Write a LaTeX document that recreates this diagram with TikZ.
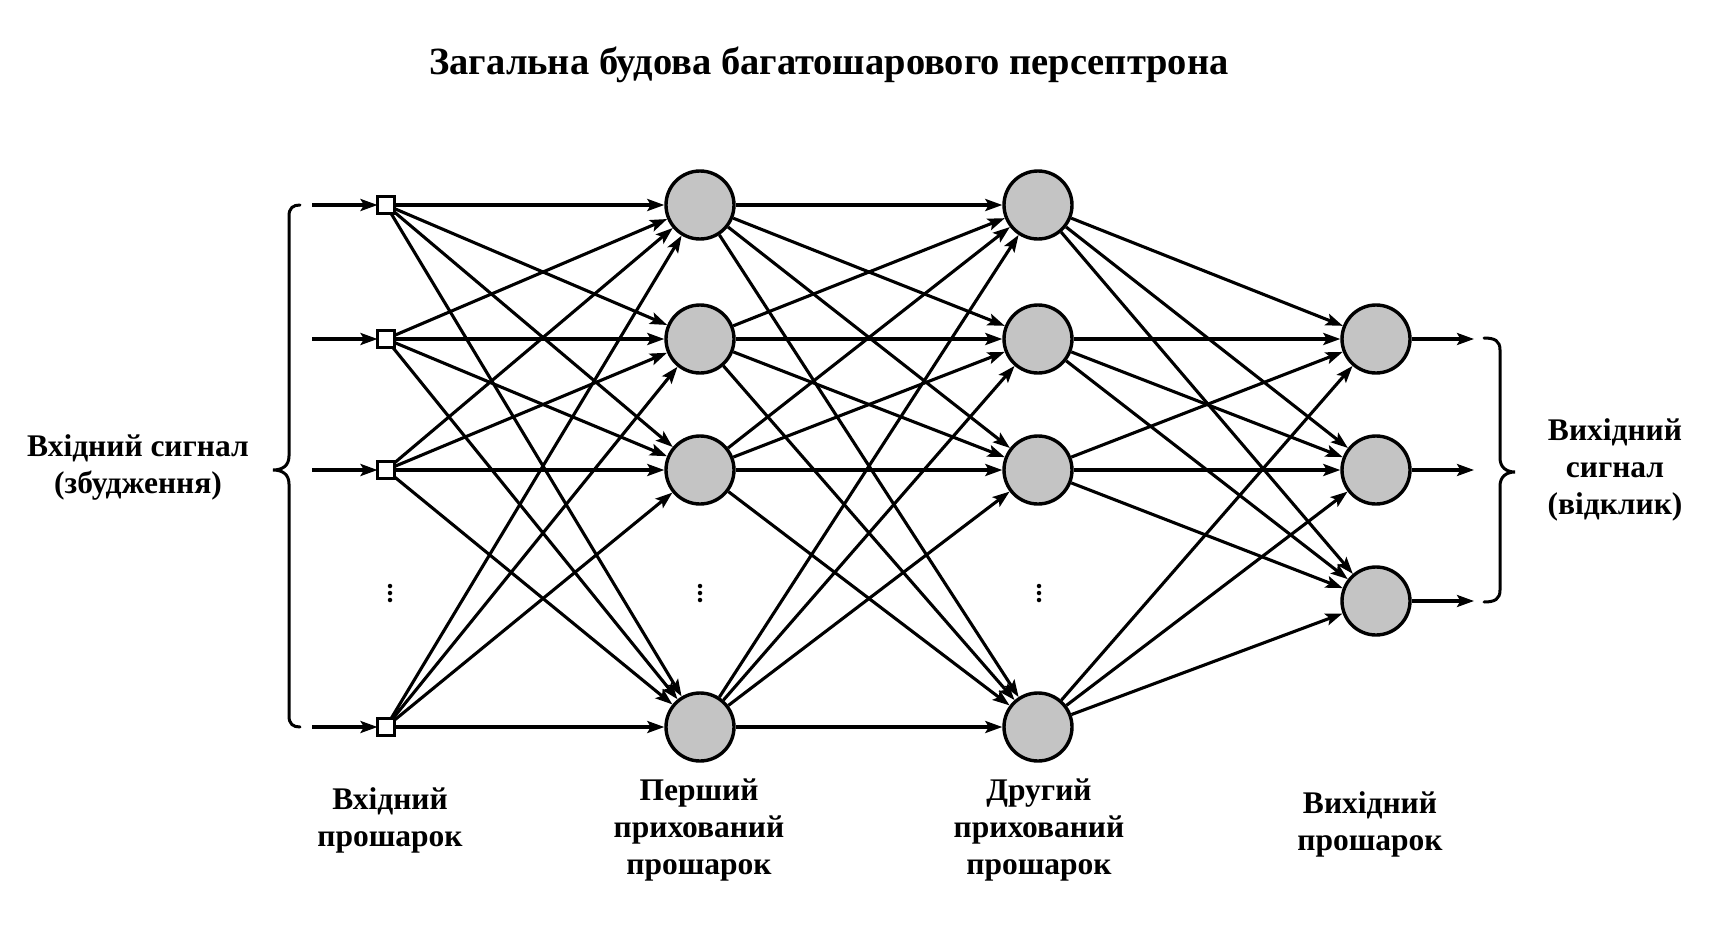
\documentclass[tikz,border=0pt]{standalone}
\usepackage{fontspec}
\setmainfont{Liberation Serif}
\usetikzlibrary{arrows.meta}
\begin{document}
\begin{tikzpicture}[x=1pt,y=-1pt,
  conn/.style={line width=3.1pt,-{Stealth[length=17pt,width=12pt,inset=3.5pt]}},
  inbox/.style={draw,line width=2.2pt,fill=white,minimum size=17pt,inner sep=0pt,outer sep=0pt},
  neuron/.style={circle,draw,line width=3.4pt,fill=black!23,minimum size=68pt,inner sep=0pt},
  bracepath/.style={line width=3pt,line cap=round},
  lbl/.style={align=center,font=\bfseries\fontsize{31.5}{37}\selectfont},
  dotn/.style={circle,fill=black,minimum size=4.5pt,inner sep=0pt}]
\useasboundingbox (0,0) rectangle (1710,931);
\node[font=\bfseries\fontsize{38.5}{40}\selectfont] (title) at (829,65) {Загальна будова багатошарового персептрона};
% input layer
\node[inbox] (i1) at (386,205) {};
\node[inbox] (i2) at (386,339) {};
\node[inbox] (i3) at (386,470) {};
\node[inbox] (i4) at (386,727) {};
% hidden 1
\node[neuron] (a1) at (700,205) {};
\node[neuron] (a2) at (700,339) {};
\node[neuron] (a3) at (700,470) {};
\node[neuron] (a4) at (700,727) {};
% hidden 2
\node[neuron] (b1) at (1038,205) {};
\node[neuron] (b2) at (1038,339) {};
\node[neuron] (b3) at (1038,470) {};
\node[neuron] (b4) at (1038,727) {};
% output
\node[neuron] (o1) at (1376,339) {};
\node[neuron] (o2) at (1376,470) {};
\node[neuron] (o3) at (1376,601) {};
% dots
\foreach \x/\n in {390/p,700/q,1039/r}{
  \node[dotn] (\n1) at (\x,586) {};
  \node[dotn] (\n2) at (\x,593) {};
  \node[dotn] (\n3) at (\x,600) {};
}
% input signal arrows
\coordinate (s1) at (312,205);
\coordinate (s2) at (312,339);
\coordinate (s3) at (312,470);
\coordinate (s4) at (312,727);
\foreach \k in {1,2,3,4}{\draw[conn] (s\k) -- (i\k);}
% connections
\foreach \k in {1,2,3,4}{
  \foreach \m in {1,2,3,4}{
    \draw[conn] (i\k) -- (a\m);
    \draw[conn] (a\k) -- (b\m);
  }
  \foreach \m in {1,2,3}{\draw[conn] (b\k) -- (o\m);}
}
% output arrows
\coordinate (e1) at (1474,339);
\coordinate (e2) at (1474,470);
\coordinate (e3) at (1474,601);
\foreach \k in {1,2,3}{\draw[conn] (o\k) -- (e\k);}
% braces
\draw[bracepath] (300,205) .. controls (293,205) and (289,208) .. (289,216) -- (289,456)
  .. controls (289,466) and (282,470) .. (273,470) .. controls (282,470) and (289,474) .. (289,484)
  -- (289,716) .. controls (289,724) and (293,727) .. (300,727);
\draw[bracepath] (1484,338) .. controls (1495,338) and (1500,341) .. (1500,350) -- (1500,458)
  .. controls (1500,467) and (1506,472) .. (1515,472) .. controls (1506,472) and (1500,477) .. (1500,486)
  -- (1500,590) .. controls (1500,599) and (1495,602) .. (1484,602);
% labels
\node[lbl] (inl) at (138,467) {Вхідний сигнал\\(збудження)};
\node[lbl] (outl) at (1615,470) {Вихідний\\сигнал\\(відклик)};
\node[lbl] (l1) at (390,820) {Вхідний\\прошарок};
\node[lbl] (l2) at (699,830) {Перший\\прихований\\прошарок};
\node[lbl] (l3) at (1039,830) {Другий\\прихований\\прошарок};
\node[lbl] (l4) at (1370,824) {Вихідний\\прошарок};
\end{tikzpicture}
\end{document}
